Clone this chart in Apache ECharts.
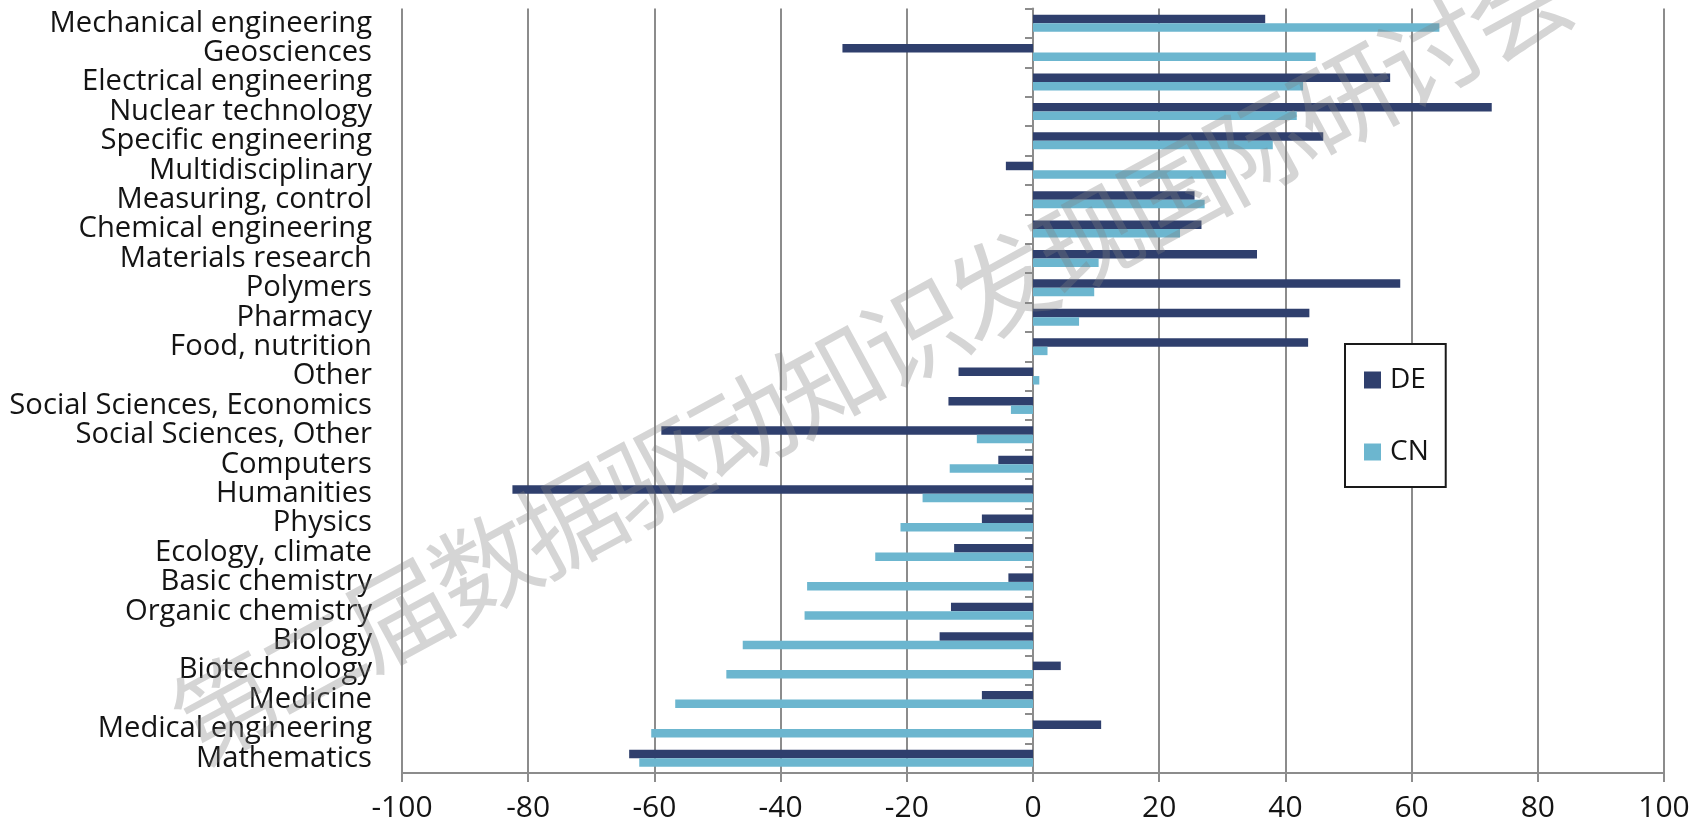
<!DOCTYPE html>
<html>
<head>
<meta charset="utf-8">
<script src="https://cdn.jsdelivr.net/npm/echarts@6/dist/echarts.min.js"></script>
<style>
  html, body { margin: 0; padding: 0; background: #fff; }
  #chart { width: 1705px; height: 827px; }
</style>
</head>
<body>
<div id="chart"></div>
<script>
// Subject fields, listed top to bottom
const categories = [
  'Mechanical engineering', 'Geosciences', 'Electrical engineering', 'Nuclear technology',
  'Specific engineering', 'Multidisciplinary', 'Measuring, control', 'Chemical engineering',
  'Materials research', 'Polymers', 'Pharmacy', 'Food, nutrition', 'Other',
  'Social Sciences, Economics', 'Social Sciences, Other', 'Computers', 'Humanities',
  'Physics', 'Ecology, climate', 'Basic chemistry', 'Organic chemistry', 'Biology',
  'Biotechnology', 'Medicine', 'Medical engineering', 'Mathematics'
];

// Germany
const deValues = [
  36.8, -30.2, 56.6, 72.7, 46.0, -4.3, 25.6, 26.7, 35.5, 58.2, 43.8, 43.6, -11.8,
  -13.4, -58.9, -5.5, -82.5, -8.1, -12.5, -3.9, -13.0, -14.8, 4.4, -8.1, 10.8, -64.0
];

// China
const cnValues = [
  64.4, 44.8, 42.8, 41.8, 38.0, 30.6, 27.2, 23.3, 10.4, 9.7, 7.3, 2.3, 1.0,
  -3.5, -8.9, -13.2, -17.5, -21.0, -25.0, -35.8, -36.2, -46.0, -48.6, -56.7, -60.5, -62.4
];

const xTicks = { min: -100, max: 100, interval: 20 };
const watermarkText = '第二届数据驱动知识发现国际研讨会';

const FONT = '"Open Sans", "Noto Sans", sans-serif';
const TEXT_COLOR = '#141414';
const GRID_GRAY = '#8c8c8c';
const DE_COLOR = '#2f3f6d';
const CN_COLOR = '#6cb6cf';

// Diagonal watermark: one text element per character along a slanted line
function watermarkGraphics() {
  const chars = Array.from(watermarkText);
  const cx = 872, cy = 356;          // centre of the line
  const step = 98;                   // spacing between characters
  const angle = 28.5 * Math.PI / 180;
  const dx = Math.cos(angle) * step, dy = -Math.sin(angle) * step;
  const mid = (chars.length - 1) / 2;
  return chars.map((ch, i) => ({
    type: 'text',
    x: cx + (i - mid) * dx,
    y: cy + (i - mid) * dy,
    rotation: angle,
    z: 100,
    silent: true,
    style: {
      text: ch,
      fontFamily: '"Noto Sans CJK SC", sans-serif',
      fontSize: 104,
      fill: 'rgba(128,128,128,0.33)',
      align: 'center',
      verticalAlign: 'middle'
    }
  }));
}

const chart = echarts.init(document.getElementById('chart'), null, { renderer: 'canvas' });

chart.setOption({
  animation: false,
  backgroundColor: '#ffffff',
  grid: { left: 402, right: 41, top: 8.5, bottom: 54, containLabel: false },
  legend: {
    orient: 'vertical',
    left: 1345,
    top: 344,
    padding: [22, 17, 21, 19],
    itemGap: 44,
    itemWidth: 17,
    itemHeight: 17,
    borderColor: '#1a1a1a',
    borderWidth: 2,
    backgroundColor: '#ffffff',
    icon: 'rect',
    textStyle: { fontFamily: FONT, fontSize: 28, color: TEXT_COLOR, padding: [0, 0, 0, 4] },
    data: ['DE', 'CN']
  },
  xAxis: {
    type: 'value',
    min: xTicks.min,
    max: xTicks.max,
    interval: xTicks.interval,
    axisLine: { show: true, lineStyle: { color: GRID_GRAY, width: 2 } },
    axisTick: { show: true, length: 9, lineStyle: { color: GRID_GRAY, width: 2 } },
    splitLine: { show: true, lineStyle: { color: GRID_GRAY, width: 2 } },
    axisLabel: { fontFamily: FONT, fontSize: 30, color: TEXT_COLOR, margin: 20 }
  },
  yAxis: [
    {
      // category names along the left edge of the plot
      type: 'category',
      data: categories,
      inverse: true,
      position: 'left',
      axisLine: { show: false, onZero: false },
      axisTick: { show: false },
      splitLine: { show: false },
      axisLabel: { fontFamily: FONT, fontSize: 29.2, color: TEXT_COLOR, margin: 30, interval: 0 }
    },
    {
      // zero baseline with ticks between categories
      type: 'category',
      data: categories,
      inverse: true,
      position: 'left',
      axisLine: { show: true, onZero: true, lineStyle: { color: GRID_GRAY, width: 2 } },
      axisTick: { show: true, length: 8, interval: 0, lineStyle: { color: GRID_GRAY, width: 2 } },
      axisLabel: { show: false },
      splitLine: { show: false }
    }
  ],
  series: [
    {
      name: 'DE',
      type: 'bar',
      yAxisIndex: 0,
      data: deValues,
      barWidth: 8.5,
      barGap: '0%',
      itemStyle: { color: DE_COLOR },
      z: 3
    },
    {
      name: 'CN',
      type: 'bar',
      yAxisIndex: 0,
      data: cnValues,
      barWidth: 8.5,
      barGap: '0%',
      itemStyle: { color: CN_COLOR },
      z: 3
    }
  ],
  graphic: watermarkGraphics()
});
</script>
</body>
</html>
